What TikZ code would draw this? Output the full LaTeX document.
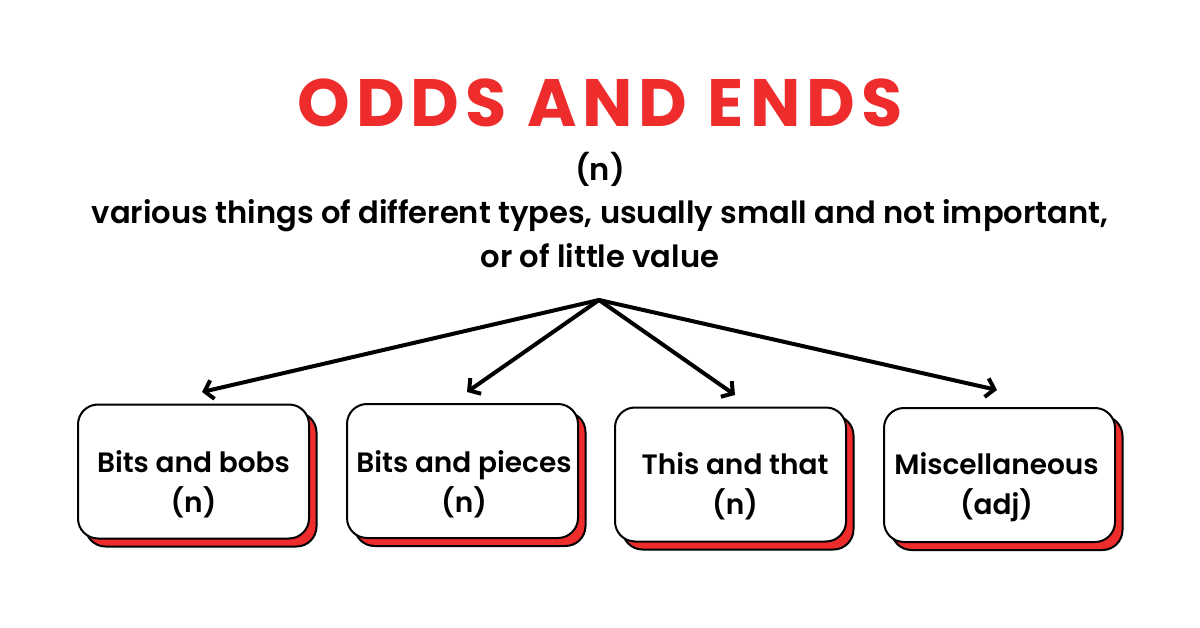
\documentclass[tikz,border=0pt]{standalone}
\usepackage{fontspec}
\setmainfont{Poppins}
\newfontfamily\bodyfont{Poppins SemiBold}
\newfontfamily\titlefont{Poppins Bold}[LetterSpace=9]
\usetikzlibrary{arrows.meta,shadows}
\definecolor{rred}{HTML}{EE2C2C}
\begin{document}
\begin{tikzpicture}[x=1pt,y=-1pt,
  card/.style={draw=black,line width=2pt,rounded corners=20pt,fill=white,
    minimum width=231pt,minimum height=134pt,inner sep=0pt,
    copy shadow={shadow xshift=7.5pt,shadow yshift=-8pt,fill=rred,draw=black,line width=2pt}},
  cardtext/.style={font=\bodyfont\fontsize{28}{32}\selectfont,anchor=base,inner sep=0pt},
  desc/.style={font=\bodyfont\fontsize{30.6}{34}\selectfont,anchor=base,inner sep=0pt},
  link/.style={line width=4pt,line cap=round,line join=round,
    -{Straight Barb[length=8pt,width=19pt]}}]
\useasboundingbox[fill=white] (0,0) rectangle (1200,628);

\node[font=\titlefont\fontsize{67}{70}\selectfont,text=rred,inner sep=0pt] (title) at (600,103) {ODDS AND ENDS};
\node[desc] (pos) at (600,181) {(n)};
\node[desc] (def1) at (600,224) {various things of different types, usually small and not important,};
\node[desc] (def2) at (600,268) {or of little value};

\coordinate (apex) at (599,300);
\coordinate (e1) at (202,392);
\coordinate (e2) at (467,392);
\coordinate (e3) at (735,395);
\coordinate (e4) at (997,390);

\node[card] (b1) at (193.5,471.5) {};
\node[card] (b2) at (462.5,471) {};
\node[card] (b3) at (730.5,474.5) {};
\node[card] (b4) at (999.5,475) {};

\node[cardtext] (t1a) at (193.5,472) {Bits and bobs};
\node[cardtext] (t1b) at (193.5,512) {(n)};
\node[cardtext] (t2a) at (464,472) {Bits and pieces};
\node[cardtext] (t2b) at (464,512) {(n)};
\node[cardtext] (t3a) at (735,474) {This and that};
\node[cardtext] (t3b) at (735,514) {(n)};
\node[cardtext] (t4a) at (996.5,474) {Miscellaneous};
\node[cardtext] (t4b) at (996.5,514) {(adj)};

\draw[link] (apex) -- (e1);
\draw[link] (apex) -- (e2);
\draw[link] (apex) -- (e3);
\draw[link] (apex) -- (e4);
\end{tikzpicture}
\end{document}
